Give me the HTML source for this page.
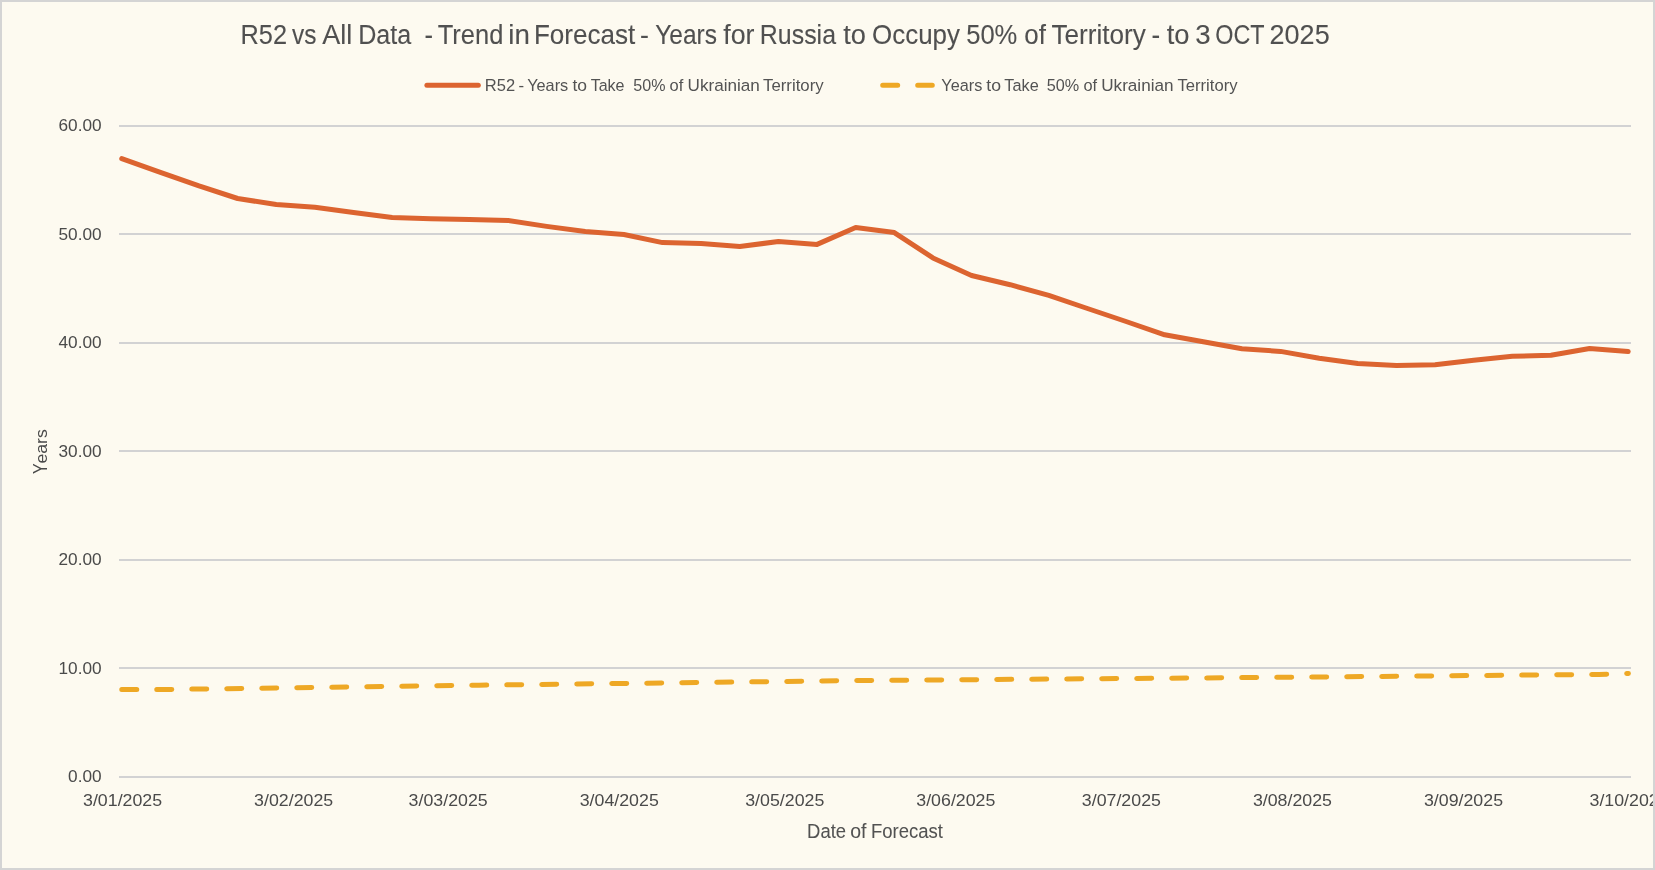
<!DOCTYPE html>
<html><head><meta charset="utf-8"><title>Chart</title>
<style>
html,body{margin:0;padding:0;background:#FDFAF0;}
body{width:1655px;height:870px;overflow:hidden;font-family:"Liberation Sans",sans-serif;}
svg{display:block;}
#wrap{will-change:transform;transform:translateZ(0);}
svg text{font-family:"Liberation Sans",sans-serif;}
</style></head><body>
<div id="wrap"><svg width="1655" height="870" viewBox="0 0 1655 870">
<rect x="0" y="0" width="1655" height="870" fill="#D4D4D4"/>
<rect x="2" y="2" width="1651" height="866" fill="#FDFAF0"/>
<svg x="2" y="2" width="1651" height="866" viewBox="2 2 1651 866">
<rect x="119" y="125" width="1512" height="2" fill="#D2D2D3"/>
<rect x="119" y="233" width="1512" height="2" fill="#D2D2D3"/>
<rect x="119" y="342" width="1512" height="2" fill="#D2D2D3"/>
<rect x="119" y="450" width="1512" height="2" fill="#D2D2D3"/>
<rect x="119" y="559" width="1512" height="2" fill="#D2D2D3"/>
<rect x="119" y="667" width="1512" height="2" fill="#D2D2D3"/>
<rect x="119" y="776" width="1512" height="2" fill="#D2D2D3"/>
<polyline fill="none" stroke="#EEA825" stroke-width="5" stroke-linecap="round" stroke-linejoin="round" stroke-dasharray="15 20" points="121.76,689.50 164.00,689.50 479.00,685.20 864.00,680.50 1284.00,677.30 1599.00,674.40 1628.40,673.40"/>
<polyline fill="none" stroke="#DC6430" stroke-width="5" stroke-linecap="round" stroke-linejoin="round" points="121.76,158.60 160.39,172.30 199.01,185.90 237.64,198.50 276.27,204.50 314.90,207.30 353.52,212.60 392.15,217.60 430.78,218.70 469.40,219.60 508.03,220.40 546.66,226.40 585.28,231.60 623.91,234.50 662.54,242.60 701.17,243.60 739.79,246.40 778.42,241.60 817.05,244.40 855.67,227.50 894.30,232.60 932.93,257.90 971.55,275.50 1010.18,284.70 1048.81,295.40 1087.44,308.50 1126.06,321.50 1164.69,334.80 1203.32,341.80 1241.94,348.70 1280.57,351.40 1319.20,358.30 1357.82,363.60 1396.45,365.60 1435.08,364.70 1473.71,360.20 1512.33,356.30 1550.96,355.20 1589.59,348.50 1628.21,351.60"/>
<line x1="426.9" y1="85.3" x2="478.3" y2="85.3" stroke="#DC6430" stroke-width="5" stroke-linecap="round"/>
<line x1="882.7" y1="85.3" x2="932.3" y2="85.3" stroke="#EEA825" stroke-width="5" stroke-linecap="round" stroke-dasharray="15 20"/>
<text transform="translate(240.52 43.80) scale(0.9321 1.0000)" font-size="27.2" fill="#505050" stroke="#505050" stroke-width="0.1">R52</text>
<text transform="translate(292.00 43.80) scale(0.8994 1.0000)" font-size="27.2" fill="#505050" stroke="#505050" stroke-width="0.1">vs</text>
<text transform="translate(322.20 43.80) scale(0.9952 1.0000)" font-size="27.2" fill="#505050" stroke="#505050" stroke-width="0.1">All</text>
<text transform="translate(358.14 43.80) scale(0.9243 1.0000)" font-size="27.2" fill="#505050" stroke="#505050" stroke-width="0.1">Data</text>
<text transform="translate(424.40 43.80) scale(0.9412 1.0000)" font-size="27.2" fill="#505050" stroke="#505050" stroke-width="0.1">-</text>
<text transform="translate(437.70 43.80) scale(0.9370 1.0000)" font-size="27.2" fill="#505050" stroke="#505050" stroke-width="0.1">Trend</text>
<text transform="translate(508.27 43.80) scale(1.0199 1.0000)" font-size="27.2" fill="#505050" stroke="#505050" stroke-width="0.1">in</text>
<text transform="translate(533.96 43.80) scale(0.9578 1.0000)" font-size="27.2" fill="#505050" stroke="#505050" stroke-width="0.1">Forecast</text>
<text transform="translate(640.06 43.80) scale(0.9827 1.0000)" font-size="27.2" fill="#505050" stroke="#505050" stroke-width="0.1">-</text>
<text transform="translate(655.22 43.80) scale(0.9007 1.0000)" font-size="27.2" fill="#505050" stroke="#505050" stroke-width="0.1">Years</text>
<text transform="translate(723.30 43.80) scale(0.9839 1.0000)" font-size="27.2" fill="#505050" stroke="#505050" stroke-width="0.1">for</text>
<text transform="translate(759.85 43.80) scale(0.9164 1.0000)" font-size="27.2" fill="#505050" stroke="#505050" stroke-width="0.1">Russia</text>
<text transform="translate(843.20 43.80) scale(1.0008 1.0000)" font-size="27.2" fill="#505050" stroke="#505050" stroke-width="0.1">to</text>
<text transform="translate(872.08 43.80) scale(0.9534 1.0000)" font-size="27.2" fill="#505050" stroke="#505050" stroke-width="0.1">Occupy</text>
<text transform="translate(966.20 43.80) scale(0.9398 1.0000)" font-size="27.2" fill="#505050" stroke="#505050" stroke-width="0.1">50%</text>
<text transform="translate(1024.29 43.80) scale(0.9531 1.0000)" font-size="27.2" fill="#505050" stroke="#505050" stroke-width="0.1">of</text>
<text transform="translate(1051.49 43.80) scale(0.9601 1.0000)" font-size="27.2" fill="#505050" stroke="#505050" stroke-width="0.1">Territory</text>
<text transform="translate(1151.39 43.80) scale(0.9550 1.0000)" font-size="27.2" fill="#505050" stroke="#505050" stroke-width="0.1">-</text>
<text transform="translate(1166.70 43.80) scale(1.0055 1.0000)" font-size="27.2" fill="#505050" stroke="#505050" stroke-width="0.1">to</text>
<text transform="translate(1195.14 43.80) scale(1.0171 1.0000)" font-size="27.2" fill="#505050" stroke="#505050" stroke-width="0.1">3</text>
<text transform="translate(1215.31 43.80) scale(0.8586 1.0000)" font-size="27.2" fill="#505050" stroke="#505050" stroke-width="0.1">OCT</text>
<text transform="translate(1269.53 43.80) scale(0.9943 1.0000)" font-size="27.2" fill="#505050" stroke="#505050" stroke-width="0.1">2025</text>
<text transform="translate(484.81 91.00) scale(0.9911 1.0000)" font-size="16.7" fill="#535353">R52</text>
<text transform="translate(518.57 91.00) scale(1.0144 1.0000)" font-size="16.7" fill="#535353">-</text>
<text transform="translate(527.14 91.00) scale(0.9780 1.0000)" font-size="16.7" fill="#535353">Years</text>
<text transform="translate(572.40 91.00) scale(1.0490 1.0000)" font-size="16.7" fill="#535353">to</text>
<text transform="translate(590.65 91.00) scale(0.9610 1.0000)" font-size="16.7" fill="#535353">Take</text>
<text transform="translate(633.30 91.00) scale(0.9628 1.0000)" font-size="16.7" fill="#535353">50%</text>
<text transform="translate(669.48 91.00) scale(0.9879 1.0000)" font-size="16.7" fill="#535353">of</text>
<text transform="translate(687.53 91.00) scale(1.0254 1.0000)" font-size="16.7" fill="#535353">Ukrainian</text>
<text transform="translate(763.04 91.00) scale(1.0059 1.0000)" font-size="16.7" fill="#535353">Territory</text>
<text transform="translate(941.35 91.00) scale(0.9731 1.0000)" font-size="16.7" fill="#535353">Years</text>
<text transform="translate(986.30 91.00) scale(1.0565 1.0000)" font-size="16.7" fill="#535353">to</text>
<text transform="translate(1004.35 91.00) scale(0.9756 1.0000)" font-size="16.7" fill="#535353">Take</text>
<text transform="translate(1046.69 91.00) scale(0.9721 1.0000)" font-size="16.7" fill="#535353">50%</text>
<text transform="translate(1083.49 91.00) scale(0.9805 1.0000)" font-size="16.7" fill="#535353">of</text>
<text transform="translate(1101.23 91.00) scale(1.0254 1.0000)" font-size="16.7" fill="#535353">Ukrainian</text>
<text transform="translate(1177.44 91.00) scale(0.9975 1.0000)" font-size="16.7" fill="#535353">Territory</text>
<text transform="translate(807.06 837.90) scale(0.9276 1.0000)" font-size="19.9" fill="#525252" stroke="#525252" stroke-width="0.05">Date</text>
<text transform="translate(850.29 837.90) scale(0.9787 1.0000)" font-size="19.9" fill="#525252" stroke="#525252" stroke-width="0.05">of</text>
<text transform="translate(870.95 837.90) scale(0.9298 1.0000)" font-size="19.9" fill="#525252" stroke="#525252" stroke-width="0.05">Forecast</text>
<text transform="translate(58.52 130.60) scale(1.0700 1.0000)" font-size="16.1" fill="#4A4A4A">60.00</text>
<text transform="translate(58.52 239.60) scale(1.0700 1.0000)" font-size="16.1" fill="#4A4A4A">50.00</text>
<text transform="translate(58.52 347.60) scale(1.0700 1.0000)" font-size="16.1" fill="#4A4A4A">40.00</text>
<text transform="translate(58.52 456.60) scale(1.0700 1.0000)" font-size="16.1" fill="#4A4A4A">30.00</text>
<text transform="translate(58.52 564.60) scale(1.0700 1.0000)" font-size="16.1" fill="#4A4A4A">20.00</text>
<text transform="translate(58.52 673.60) scale(1.0700 1.0000)" font-size="16.1" fill="#4A4A4A">10.00</text>
<text transform="translate(68.10 781.60) scale(1.0700 1.0000)" font-size="16.1" fill="#4A4A4A">0.00</text>
<text transform="translate(83.04 806.30) scale(1.1336 1.0000)" font-size="15.7" fill="#4A4A4A">3/01/2025</text>
<text transform="translate(254.10 806.30) scale(1.1336 1.0000)" font-size="15.7" fill="#4A4A4A">3/02/2025</text>
<text transform="translate(408.61 806.30) scale(1.1336 1.0000)" font-size="15.7" fill="#4A4A4A">3/03/2025</text>
<text transform="translate(579.67 806.30) scale(1.1336 1.0000)" font-size="15.7" fill="#4A4A4A">3/04/2025</text>
<text transform="translate(745.22 806.30) scale(1.1336 1.0000)" font-size="15.7" fill="#4A4A4A">3/05/2025</text>
<text transform="translate(916.28 806.30) scale(1.1336 1.0000)" font-size="15.7" fill="#4A4A4A">3/06/2025</text>
<text transform="translate(1081.82 806.30) scale(1.1336 1.0000)" font-size="15.7" fill="#4A4A4A">3/07/2025</text>
<text transform="translate(1252.88 806.30) scale(1.1336 1.0000)" font-size="15.7" fill="#4A4A4A">3/08/2025</text>
<text transform="translate(1423.94 806.30) scale(1.1336 1.0000)" font-size="15.7" fill="#4A4A4A">3/09/2025</text>
<text transform="translate(1589.49 806.30) scale(1.1336 1.0000)" font-size="15.7" fill="#4A4A4A">3/10/2025</text>
<text transform="translate(47.0 474.05) rotate(-90) scale(0.9366 1.2141)" font-size="17" fill="#4A4A4A">Y</text>
<text transform="translate(47.0 463.55) rotate(-90) scale(1.0404 0.9592)" font-size="17" fill="#4A4A4A">ears</text>
</svg>
</svg></div>
</body></html>
